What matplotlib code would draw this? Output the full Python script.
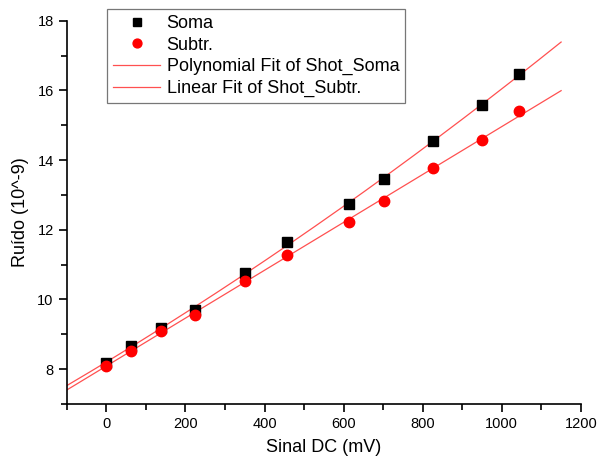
import numpy as np
import matplotlib.pyplot as plt
from matplotlib.ticker import MultipleLocator

plt.rcParams['font.family'] = ['Liberation Sans', 'DejaVu Sans']

# Sinal DC (mV) e ruído medido
sinal_soma = [0, 61, 139, 224, 351, 458, 614, 703, 826, 949, 1044]
ruido_soma = [8.17, 8.67, 9.19, 9.70, 10.77, 11.66, 12.74, 13.46, 14.55, 15.57, 16.47]

sinal_subtr = [0, 61, 139, 224, 351, 458, 614, 703, 826, 949, 1044]
ruido_subtr = [8.10, 8.53, 9.10, 9.55, 10.53, 11.28, 12.22, 12.82, 13.76, 14.57, 15.40]

# Ajustes: polinomial (grau 2) para soma, linear para subtração
x_fit = np.linspace(-100, 1150, 300)
coef_soma = np.polyfit(sinal_soma, ruido_soma, 2)
coef_subtr = np.polyfit(sinal_subtr, ruido_subtr, 1)

fig = plt.figure(figsize=(5.97, 4.61), dpi=100)
ax = fig.add_axes([0.112, 0.124, 0.861, 0.831])

ax.plot(sinal_soma, ruido_soma, 's', color='black', markersize=6.5, label='Soma', zorder=3)
ax.plot(sinal_subtr, ruido_subtr, 'o', color='red', markersize=7.5, label='Subtr.', zorder=3)
ax.plot(x_fit, np.polyval(coef_soma, x_fit), '-', color='#ff5050', lw=0.9,
        label='Polynomial Fit of Shot_Soma', zorder=2)
ax.plot(x_fit, np.polyval(coef_subtr, x_fit), '-', color='#ff5050', lw=0.9,
        label='Linear Fit of Shot_Subtr.', zorder=2)

ax.set_xlim(-100, 1200)
ax.set_ylim(7, 18)
ax.xaxis.set_major_locator(MultipleLocator(200))
ax.xaxis.set_minor_locator(MultipleLocator(100))
ax.yaxis.set_major_locator(MultipleLocator(2))
ax.yaxis.set_minor_locator(MultipleLocator(1))

ax.spines['top'].set_visible(False)
ax.spines['right'].set_visible(False)
for s in ('left', 'bottom'):
    ax.spines[s].set_linewidth(1.2)
ax.tick_params(which='major', direction='out', length=6, width=1.2, labelsize=10.5)
ax.tick_params(which='minor', direction='out', length=4, width=1.2)

ax.set_xlabel('Sinal DC (mV)', fontsize=13, labelpad=6)
ax.set_ylabel('Ruído (10^-9)', fontsize=13, labelpad=6)

leg = ax.legend(loc='upper left', bbox_to_anchor=(0.078, 1.031), fontsize=13,
                frameon=True, fancybox=False, edgecolor='#555555',
                handlelength=2.6, handletextpad=0.35, borderpad=0.35,
                borderaxespad=0, labelspacing=0.25, markerscale=0.85)
leg.get_frame().set_linewidth(0.9)

fig.savefig('out.png', dpi=100)
